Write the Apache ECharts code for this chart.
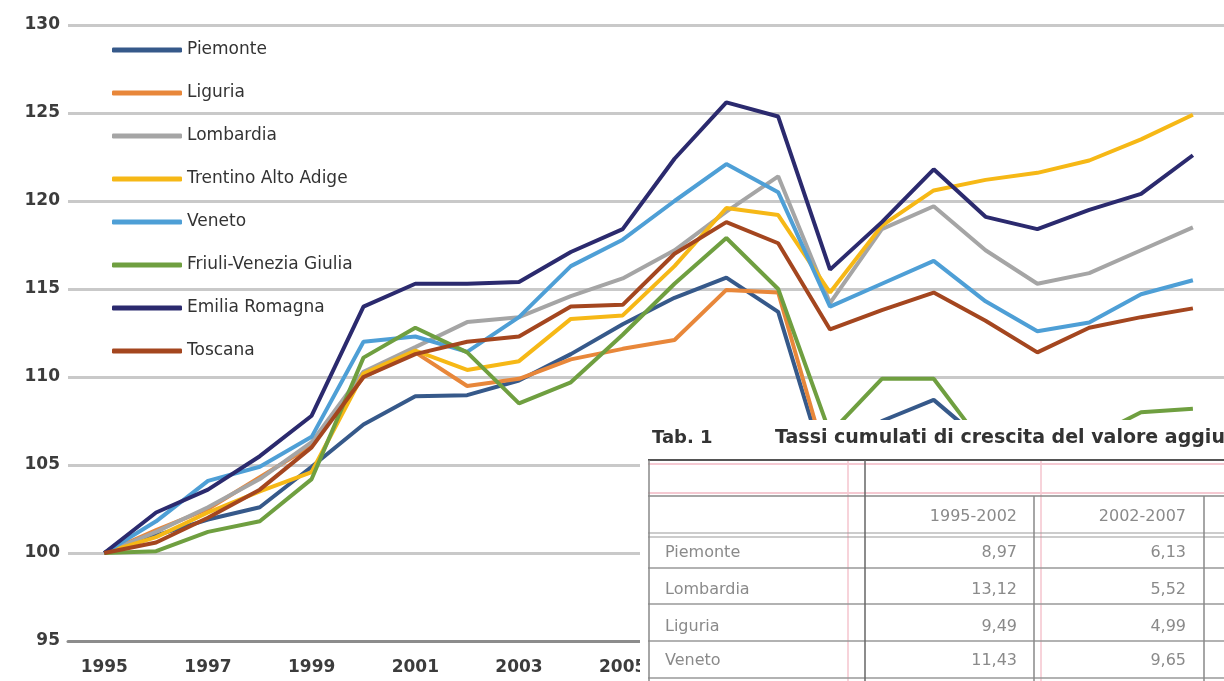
<!DOCTYPE html>
<html>
<head>
<meta charset="utf-8">
<title>Valore aggiunto - regioni del Nord e Toscana</title>
<script src="https://cdn.jsdelivr.net/npm/echarts@6/dist/echarts.min.js"></script>
<style>
  html, body { margin: 0; padding: 0; background: #fff; }
  #chart { width: 1224px; height: 681px; }
</style>
</head>
<body>
<div id="chart"></div>
<script>
// anni (asse x) e etichette mostrate
var years = [1995, 1996, 1997, 1998, 1999, 2000, 2001, 2002, 2003, 2004, 2005,
             2006, 2007, 2008, 2009, 2010, 2011, 2012, 2013, 2014, 2015, 2016];
var yearTicks = [1995, 1997, 1999, 2001, 2003, 2005, 2007, 2009, 2011, 2013, 2015];

var regions = ['Piemonte', 'Liguria', 'Lombardia', 'Trentino Alto Adige', 'Veneto',
               'Friuli-Venezia Giulia', 'Emilia Romagna', 'Toscana'];
var colors = ['#36598a', '#e8873a', '#a5a5a5', '#f6b816', '#4e9fd6', '#6f9f40', '#2b2a6e', '#a4461f'];

// indice 1995 = 100
var piemonte  = [100, 101.0, 101.9, 102.6, 104.9, 107.3, 108.9, 108.97, 109.8, 111.3, 113.0, 114.5, 115.65, 113.7, 104.0, 107.5, 108.7, 106.2, 105.0, 105.2, 105.8, 106.3];
var liguria   = [100, 101.3, 102.5, 104.3, 106.1, 110.0, 111.4, 109.49, 109.9, 111.0, 111.6, 112.1, 114.95, 114.8, 104.5, 105.2, 106.0, 105.0, 104.0, 104.3, 105.0, 105.6];
var lombardia = [100, 101.2, 102.6, 104.2, 106.3, 110.3, 111.7, 113.12, 113.4, 114.6, 115.6, 117.2, 119.4, 121.4, 114.2, 118.4, 119.7, 117.2, 115.3, 115.9, 117.2, 118.5];
var trentino  = [100, 100.9, 102.3, 103.5, 104.6, 110.2, 111.5, 110.4, 110.9, 113.3, 113.5, 116.3, 119.6, 119.2, 114.8, 118.6, 120.6, 121.2, 121.6, 122.3, 123.5, 124.9];
var veneto    = [100, 101.8, 104.1, 104.9, 106.6, 112.0, 112.3, 111.43, 113.4, 116.3, 117.8, 120.0, 122.1, 120.5, 114.0, 115.3, 116.6, 114.3, 112.6, 113.1, 114.7, 115.5];
var friuli    = [100, 100.1, 101.2, 101.8, 104.2, 111.1, 112.8, 111.4, 108.5, 109.7, 112.4, 115.3, 117.9, 115.0, 106.8, 109.9, 109.9, 106.0, 105.3, 106.5, 108.0, 108.2];
var emilia    = [100, 102.3, 103.6, 105.5, 107.8, 114.0, 115.3, 115.3, 115.4, 117.1, 118.4, 122.4, 125.6, 124.8, 116.1, 118.8, 121.8, 119.1, 118.4, 119.5, 120.4, 122.6];
var toscana   = [100, 100.6, 102.0, 103.6, 106.0, 110.0, 111.3, 112.0, 112.3, 114.0, 114.1, 117.0, 118.8, 117.6, 112.7, 113.8, 114.8, 113.2, 111.4, 112.8, 113.4, 113.9];
var seriesValues = [piemonte, liguria, lombardia, trentino, veneto, friuli, emilia, toscana];

// Tab. 1
var tabTitle = 'Tab. 1';
var tabCaption = 'Tassi cumulati di crescita del valore aggiunto';
var tabPeriods = ['1995-2002', '2002-2007'];
var tabRegions = ['Piemonte', 'Lombardia', 'Liguria', 'Veneto'];
var tabRate9502 = ['8,97', '13,12', '9,49', '11,43'];
var tabRate0207 = ['6,13', '5,52', '4,99', '9,65'];

var chart = echarts.init(document.getElementById('chart'));

var series = regions.map(function (name, i) {
  return {
    name: name,
    type: 'line',
    data: years.map(function (y, j) { return [y, seriesValues[i][j]]; }),
    showSymbol: false,
    symbol: 'none',
    lineStyle: { width: 4, color: colors[i] },
    itemStyle: { color: colors[i] },
    emphasis: { disabled: true },
    z: 3
  };
});

// tabella sovrapposta (graphic)
var FONT = 'DejaVu Sans';
var gray = '#8a8a8a';
var elements = [];
elements.push({ type: 'rect', z: 100, shape: { x: 640, y: 420, width: 584, height: 261 }, style: { fill: '#fff' } });
elements.push({ type: 'text', z: 101, x: 652, y: 438, style: { text: tabTitle, font: 'bold 18px ' + FONT, fill: '#333', verticalAlign: 'middle' } });
elements.push({ type: 'text', z: 101, x: 775, y: 438, style: { text: tabCaption, font: 'bold 19px ' + FONT, fill: '#333', verticalAlign: 'middle' } });

function hline(y, x1, x2, color, w) {
  elements.push({ type: 'line', z: 101, shape: { x1: x1, y1: y, x2: x2, y2: y }, style: { stroke: color, lineWidth: w } });
}
function vline(x, y1, y2, color, w) {
  elements.push({ type: 'line', z: 101, shape: { x1: x, y1: y1, x2: x, y2: y2 }, style: { stroke: color, lineWidth: w } });
}
// guide rosa
vline(848, 460, 681, '#f7d3da', 2);
vline(1041, 460, 681, '#f7d3da', 2);
hline(464, 648, 1224, '#f5c9d2', 2);
hline(493, 648, 1224, '#f5c9d2', 2);
// bordi
hline(460, 648, 1224, '#555', 2);
hline(496, 648, 1224, '#888', 1.5);
hline(533, 648, 1224, '#999', 1);
hline(537, 648, 1224, '#999', 1);
[568, 604, 641, 678].forEach(function (y) { hline(y, 648, 1224, '#999', 1.5); });
vline(649, 460, 681, '#888', 1.5);
vline(865, 460, 681, '#666', 1.5);
vline(1034, 496, 681, '#888', 1.5);
vline(1204, 496, 681, '#888', 1.5);

var colRight = [1017, 1186];
var rowY = [553, 590, 627, 661];
tabPeriods.forEach(function (p, k) {
  elements.push({ type: 'text', z: 102, x: colRight[k], y: 517, style: { text: p, font: '16px ' + FONT, fill: gray, align: 'right', verticalAlign: 'middle' } });
});
tabRegions.forEach(function (r, i) {
  elements.push({ type: 'text', z: 102, x: 665, y: rowY[i], style: { text: r, font: '16px ' + FONT, fill: gray, verticalAlign: 'middle' } });
  elements.push({ type: 'text', z: 102, x: colRight[0], y: rowY[i], style: { text: tabRate9502[i], font: '16px ' + FONT, fill: gray, align: 'right', verticalAlign: 'middle' } });
  elements.push({ type: 'text', z: 102, x: colRight[1], y: rowY[i], style: { text: tabRate0207[i], font: '16px ' + FONT, fill: gray, align: 'right', verticalAlign: 'middle' } });
});

var option = {
  animation: false,
  backgroundColor: '#fff',
  color: colors,
  grid: { left: 68, right: 0, top: 25, bottom: 40, containLabel: false },
  legend: {
    orient: 'vertical',
    left: 107,
    top: 35,
    itemWidth: 70,
    itemHeight: 5,
    itemGap: 23,
    icon: 'roundRect',
    z: 1,
    textStyle: { fontFamily: FONT, fontSize: 17, color: '#333', lineHeight: 20 },
    data: regions
  },
  xAxis: {
    type: 'value',
    min: 1994.3,
    max: 2016.6,
    splitLine: { show: false },
    axisTick: { show: false },
    axisLine: { show: true, onZero: false, lineStyle: { color: '#8c8c8c', width: 3 } },
    axisLabel: {
      customValues: yearTicks,
      margin: 18,
      fontFamily: FONT,
      fontSize: 17,
      fontWeight: 'bold',
      color: '#3c3c3c',
      formatter: function (v) { return String(v); }
    }
  },
  yAxis: {
    type: 'value',
    min: 95,
    max: 130,
    interval: 5,
    axisLine: { show: false },
    axisTick: { show: false },
    splitLine: { lineStyle: { color: '#c9c9c9', width: 3 } },
    axisLabel: { margin: 8, fontFamily: FONT, fontSize: 17, fontWeight: 'bold', color: '#3c3c3c' }
  },
  graphic: { elements: elements },
  series: series
};

chart.setOption(option);
</script>
</body>
</html>
